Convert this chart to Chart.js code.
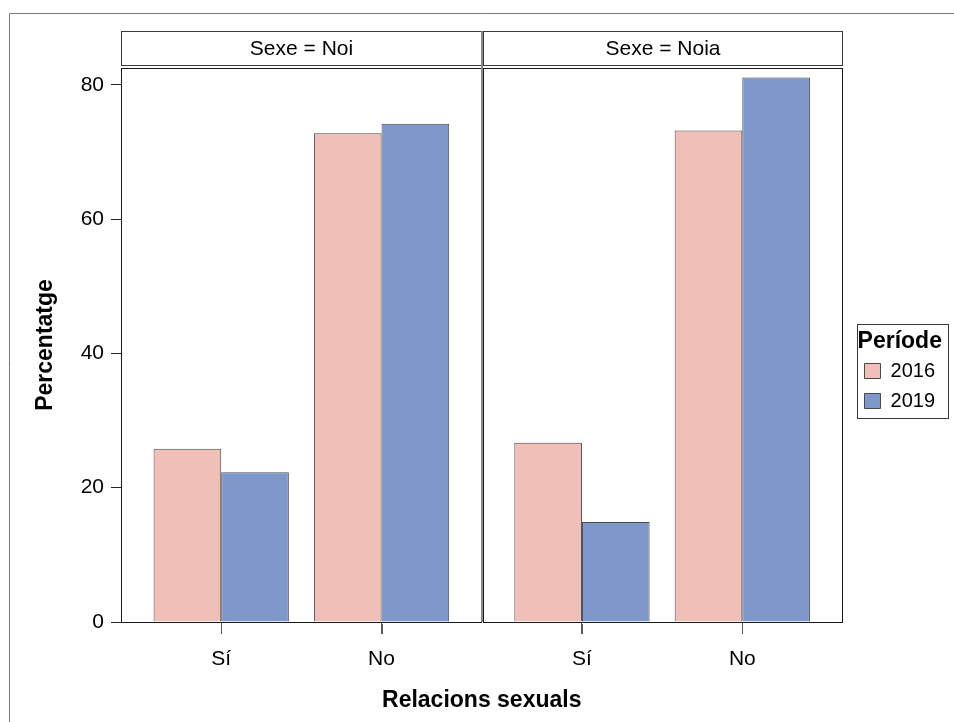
<!DOCTYPE html>
<html><head><meta charset="utf-8">
<script src="https://cdn.jsdelivr.net/npm/chart.js@4/dist/chart.umd.min.js"></script>
<style>html,body{margin:0;padding:0;background:#fff}#wrap{position:relative;width:954px;height:722px}</style>
</head><body><div id="wrap"><canvas id="c" width="954" height="722"></canvas></div>
<script>
const panels = ['Sexe = Noi', 'Sexe = Noia'];
const categories = ['Sí', 'No'];
const periods = ['2016', '2019'];
const noi2016 = [25.8, 72.8];
const noi2019 = [22.3, 74.2];
const noia2016 = [26.7, 73.2];
const noia2019 = [14.9, 81.1];
const yTicks = [0, 20, 40, 60, 80];
const colors = ['#EFBFB8', '#7E98CC'];

const FONT = '"Liberation Sans", Arial, sans-serif';
Chart.defaults.font.family = FONT;
Chart.defaults.color = '#000';

const PANEL_SPAN = 2.25;           // width of one panel in category units
const X_MIN = 0.375;
const X_MAX = X_MIN + PANEL_SPAN * panels.length;
const catPos = (p, c) => p * PANEL_SPAN + c + 1;

const series = [[noi2016, noia2016], [noi2019, noia2019]];
const datasets = periods.map((label, s) => ({
  label,
  backgroundColor: colors[s],
  borderColor: '#4a4a4a',
  borderWidth: 1,
  data: panels.flatMap((_, p) => categories.map((_, c) => ({ x: catPos(p, c), y: series[s][p][c] })))
}));
const tickValues = panels.flatMap((_, p) => categories.map((_, c) => catPos(p, c)));
const tickLabels = panels.flatMap(() => categories);

const facetPlugin = {
  id: 'facet',
  afterLayout(chart) {
    chart.legend.left += 12;
    chart.legend.right += 12;
  },
  beforeDraw(chart) {
    const ctx = chart.ctx;
    ctx.save();
    ctx.strokeStyle = '#7a7a7a';
    ctx.lineWidth = 1;
    ctx.beginPath();
    ctx.moveTo(9.5, chart.height);
    ctx.lineTo(9.5, 13.5);
    ctx.lineTo(chart.width, 13.5);
    ctx.stroke();
    ctx.restore();
  },
  afterDatasetsDraw(chart) {
    const { ctx, chartArea: a, scales: { x } } = chart;
    ctx.save();
    panels.forEach((name, p) => {
      const l = Math.round(x.getPixelForValue(X_MIN + p * PANEL_SPAN));
      const r = Math.round(x.getPixelForValue(X_MIN + (p + 1) * PANEL_SPAN));
      const L = p === 0 ? l : l + 1;
      ctx.strokeStyle = '#1a1a1a';
      ctx.lineWidth = 1;
      ctx.strokeRect(L + 0.5, Math.round(a.top) + 0.5, r - L - 1, Math.round(a.bottom) - Math.round(a.top));
      const sTop = Math.round(a.top) - 36.5, sH = 34;
      ctx.fillStyle = '#fff';
      ctx.fillRect(L + 0.5, sTop, r - L - 1, sH);
      ctx.strokeStyle = '#3a3a3a';
      ctx.strokeRect(L + 0.5, sTop, r - L - 1, sH);
      ctx.fillStyle = '#000';
      ctx.font = '21px ' + FONT;
      ctx.textAlign = 'center';
      ctx.textBaseline = 'middle';
      ctx.fillText(name, (L + r) / 2, sTop + sH / 2 + 1);
    });
    const sep = Math.round(x.getPixelForValue(X_MIN + PANEL_SPAN));
    ctx.strokeStyle = '#8a8a8a';
    ctx.lineWidth = 2;
    ctx.beginPath();
    ctx.moveTo(sep, Math.round(a.top) - 37);
    ctx.lineTo(sep, Math.round(a.bottom));
    ctx.stroke();
    // category tick marks under the x axis, at the scale's tick positions
    ctx.strokeStyle = '#5a5a5a';
    ctx.lineWidth = 1;
    ctx.beginPath();
    x.ticks.forEach((t, i) => {
      const px = Math.round(x.getPixelForTick(i)) + 0.5;
      ctx.moveTo(px, Math.round(a.bottom) + 2);
      ctx.lineTo(px, Math.round(a.bottom) + 12);
    });
    ctx.stroke();
    ctx.restore();
  },
  afterDraw(chart) {
    const ctx = chart.ctx;
    const hb = chart.legend.legendHitBoxes;
    if (!hb || !hb.length) return;
    const first = hb[0], last = hb[hb.length - 1];
    const left = Math.round(first.left - 8) + 0.5;
    const top = Math.round(first.top - 37) + 0.5;
    const right = Math.round(first.left + first.width + 13) + 0.5;
    const bottom = Math.round(last.top + last.height + 7) + 0.5;
    ctx.save();
    ctx.strokeStyle = '#3a3a3a';
    ctx.lineWidth = 1;
    ctx.strokeRect(left, top, right - left, bottom - top);
    ctx.restore();
  }
};

new Chart(document.getElementById('c'), {
  type: 'bar',
  data: { datasets },
  plugins: [facetPlugin],
  options: {
    responsive: false,
    animation: false,
    devicePixelRatio: 1,
    events: [],
    layout: { padding: { top: 68, right: 21, bottom: 0, left: 0 } },
    datasets: { bar: { barPercentage: 1, categoryPercentage: 0.84375 } },
    scales: {
      x: {
        type: 'linear',
        min: X_MIN,
        max: X_MAX,
        bounds: 'data',
        offset: false,
        afterBuildTicks: s => { s.ticks = tickValues.map(v => ({ value: v })); },
        afterFit: s => { s.height = 100; },
        ticks: {
          autoSkip: false, maxRotation: 0, includeBounds: false,
          padding: 13,
          font: { size: 21 },
          color: '#000',
          callback: (v, i) => tickLabels[i]
        },
        grid: { display: true, offset: false, drawOnChartArea: false, drawTicks: true, tickLength: 12, tickColor: '#5a5a5a', color: '#5a5a5a' },
        border: { display: false },
        title: { display: true, text: 'Relacions sexuals', font: { size: 23, weight: 'bold' }, color: '#000', padding: { top: 0, bottom: 8 } }
      },
      y: {
        min: 0,
        max: 82.5,
        bounds: 'data',
        afterBuildTicks: s => { s.ticks = yTicks.map(v => ({ value: v })); },
        afterFit: s => { s.width = 121; },
        ticks: { padding: 7, font: { size: 21 }, color: '#000' },
        grid: { drawOnChartArea: false, tickLength: 10, color: '#222' },
        border: { display: false },
        title: { display: true, text: 'Percentatge', font: { size: 23, weight: 'bold' }, color: '#000', padding: { top: 32, bottom: 0 } }
      }
    },
    plugins: {
      tooltip: { enabled: false },
      legend: {
        position: 'right',
        align: 'center',
        fullSize: false,
        title: {
          display: true, text: 'Període', position: 'center',
          font: { size: 23, weight: 'bold', lineHeight: 1 }, color: '#000',
          padding: { top: 61, bottom: -2 }
        },
        labels: { boxWidth: 16, boxHeight: 15, padding: 10, font: { size: 20 }, color: '#000' }
      }
    }
  }
});
</script></body></html>
